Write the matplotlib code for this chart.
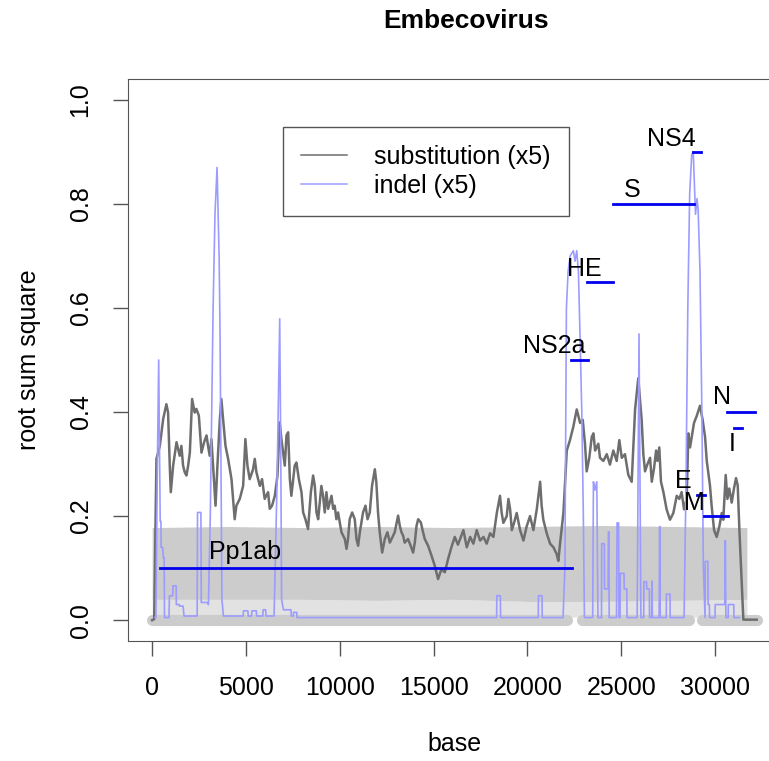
import matplotlib
matplotlib.use('Agg')
import matplotlib.pyplot as plt

plt.rcParams['font.family'] = ['Liberation Sans', 'DejaVu Sans']

# substitution (x5)
sub_x = [0, 110, 230, 410, 590, 760, 850, 940, 995, 1120, 1300, 1470, 1560, 1650, 1740,
         1830, 1920, 2010, 2130, 2270, 2360, 2490, 2630, 2770, 2900, 2980, 3070, 3160,
         3250, 3380, 3480, 3610, 3690, 3780, 3910, 4050, 4230, 4400, 4490, 4670, 4850,
         4970, 5080, 5200, 5380, 5470, 5560, 5740, 5860, 6000, 6180, 6270, 6390, 6540,
         6680, 6800, 6890, 6980, 7070, 7160, 7250, 7340, 7420, 7600, 7690, 7820, 7960,
         8050, 8170, 8310, 8460, 8580, 8670, 8760, 8850, 9020, 9110, 9200, 9290, 9380,
         9560, 9650, 9730, 9820, 9910, 10090, 10270, 10360, 10440, 10530, 10660, 10800,
         10890, 10980, 11070, 11240, 11370, 11480, 11600, 11720, 11870, 11950, 12040,
         12130, 12260, 12400, 12540, 12670, 12840, 12930, 13110, 13200, 13290, 13380,
         13460, 13640, 13780, 13910, 14000, 14090, 14180, 14320, 14440, 14530, 14710,
         14890, 15060, 15240, 15420, 15600, 15770, 15950, 16130, 16300, 16590, 16770,
         16950, 17120, 17300, 17480, 17660, 17830, 18010, 18190, 18370, 18540, 18630,
         18720, 18900, 18990, 19080, 19170, 19290, 19430, 19610, 19790, 19960, 20140,
         20320, 20500, 20680, 20760, 20850, 21030, 21210, 21390, 21560, 21650, 21740,
         21920, 22100, 22270, 22450, 22630, 22810, 22950, 23070, 23160, 23300, 23430,
         23520, 23610, 23780, 23870, 24050, 24230, 24400, 24580, 24760, 24900, 25030,
         25200, 25380, 25560, 25740, 25910, 26000, 26090, 26180, 26270, 26390, 26540,
         26630, 26750, 26860, 26930, 27030, 27120, 27250, 27420, 27600, 27780, 27960,
         28100, 28220, 28350, 28490, 28580, 28670, 28760, 28880, 29020, 29200, 29340,
         29470, 29560, 29730, 29820, 29950, 30090, 30230, 30360, 30440, 30570, 30660,
         30760, 30890, 31010, 31120, 31210, 31300, 31420, 31510, 32220]
sub_y = [0.0, 0.002, 0.31, 0.335, 0.387, 0.415, 0.399, 0.297, 0.246, 0.297, 0.342, 0.316,
         0.335, 0.297, 0.284, 0.278, 0.297, 0.322, 0.425, 0.399, 0.406, 0.393, 0.322,
         0.342, 0.355, 0.335, 0.316, 0.348, 0.297, 0.22, 0.297, 0.387, 0.425, 0.387,
         0.335, 0.31, 0.271, 0.194, 0.22, 0.233, 0.258, 0.348, 0.297, 0.271, 0.29, 0.31,
         0.284, 0.258, 0.271, 0.233, 0.246, 0.214, 0.22, 0.239, 0.278, 0.38, 0.348,
         0.322, 0.297, 0.355, 0.361, 0.271, 0.239, 0.297, 0.303, 0.271, 0.246, 0.207,
         0.194, 0.175, 0.246, 0.278, 0.258, 0.207, 0.194, 0.258, 0.239, 0.207, 0.246,
         0.214, 0.239, 0.214, 0.22, 0.194, 0.207, 0.169, 0.156, 0.137, 0.156, 0.194,
         0.207, 0.194, 0.156, 0.143, 0.169, 0.207, 0.22, 0.194, 0.207, 0.258, 0.29,
         0.265, 0.207, 0.169, 0.13, 0.156, 0.169, 0.149, 0.162, 0.169, 0.201, 0.181,
         0.169, 0.162, 0.149, 0.156, 0.143, 0.13, 0.149, 0.181, 0.194, 0.188, 0.169,
         0.156, 0.143, 0.124, 0.105, 0.079, 0.098, 0.092, 0.117, 0.14, 0.16, 0.145,
         0.173, 0.14, 0.16, 0.147, 0.173, 0.153, 0.16, 0.147, 0.167, 0.16, 0.206, 0.239,
         0.206, 0.187, 0.2, 0.233, 0.213, 0.173, 0.187, 0.206, 0.173, 0.153, 0.18, 0.2,
         0.173, 0.213, 0.266, 0.22, 0.193, 0.167, 0.147, 0.14, 0.127, 0.114, 0.147,
         0.206, 0.326, 0.346, 0.372, 0.405, 0.379, 0.385, 0.339, 0.286, 0.312, 0.352,
         0.359, 0.326, 0.339, 0.312, 0.306, 0.319, 0.299, 0.326, 0.306, 0.346, 0.312,
         0.319, 0.279, 0.266, 0.405, 0.465, 0.425, 0.385, 0.319, 0.286, 0.299, 0.312,
         0.266, 0.292, 0.326, 0.306, 0.332, 0.266, 0.246, 0.213, 0.193, 0.206, 0.239,
         0.233, 0.246, 0.213, 0.233, 0.359, 0.332, 0.352, 0.379, 0.392, 0.412, 0.385,
         0.352, 0.306, 0.259, 0.22, 0.173, 0.16, 0.18, 0.206, 0.193, 0.279, 0.233,
         0.253, 0.226, 0.253, 0.273, 0.259, 0.173, 0.074, 0.001, 0.001]

# indel (x5)
indel_x = [150, 200, 280, 350, 400, 430, 470, 480, 560, 600, 640, 660, 900, 920, 1100,
           1110, 1280, 1290, 1450, 1460, 1650, 1700, 2400, 2420, 2600, 2620, 2950, 3000,
           3100, 3250, 3350, 3460, 3520, 3570, 3620, 3680, 3720, 3800, 4850, 4870, 5100,
           5120, 5300, 5320, 5550, 5570, 5900, 5920, 6050, 6070, 6500, 6650, 6800, 6860,
           6900, 7000, 7400, 7420, 7530, 7540, 7710, 7720, 18360, 18370, 18560, 18570,
           20580, 20590, 20780, 20790, 21900, 22000, 22080, 22170, 22280, 22450, 22540,
           22630, 22720, 22810, 22900, 22980, 23040, 23480, 23520, 23600, 23700, 23760,
           23950, 23960, 24100, 24110, 24300, 24320, 24340, 24360, 24750, 24780, 24860,
           24880, 24940, 24950, 25150, 25160, 25300, 25310, 25850, 25950, 26050, 26200,
           26210, 26350, 26360, 26500, 26510, 26620, 26640, 26660, 27020, 27050, 27080,
           27400, 27410, 27600, 27610, 28350, 28450, 28550, 28650, 28760, 28840, 28900,
           28960, 29040, 29100, 29200, 29300, 29380, 29470, 29480, 29620, 29630, 29700,
           29710, 30000, 30010, 30520, 30550, 30580, 30700, 30710, 31000, 31010, 31300]
indel_y = [0.005, 0.005, 0.30, 0.50, 0.30, 0.19, 0.19, 0.14, 0.14, 0.12, 0.12, 0.005,
           0.005, 0.047, 0.047, 0.066, 0.066, 0.03, 0.03, 0.027, 0.027, 0.008, 0.008,
           0.207, 0.207, 0.034, 0.034, 0.03, 0.20, 0.60, 0.78, 0.87, 0.78, 0.70, 0.55,
           0.25, 0.04, 0.008, 0.008, 0.018, 0.018, 0.008, 0.008, 0.018, 0.018, 0.008,
           0.008, 0.02, 0.02, 0.008, 0.008, 0.25, 0.579, 0.30, 0.04, 0.02, 0.02, 0.008,
           0.008, 0.015, 0.015, 0.005, 0.005, 0.047, 0.047, 0.005, 0.005, 0.047, 0.047,
           0.005, 0.005, 0.10, 0.60, 0.67, 0.70, 0.71, 0.69, 0.71, 0.67, 0.54, 0.40,
           0.206, 0.005, 0.005, 0.266, 0.25, 0.266, 0.005, 0.005, 0.147, 0.147, 0.06,
           0.06, 0.17, 0.17, 0.005, 0.005, 0.187, 0.187, 0.005, 0.005, 0.09, 0.09, 0.06,
           0.06, 0.005, 0.005, 0.55, 0.005, 0.005, 0.074, 0.074, 0.06, 0.06, 0.005,
           0.005, 0.075, 0.005, 0.005, 0.18, 0.005, 0.005, 0.05, 0.05, 0.005, 0.005,
           0.25, 0.60, 0.82, 0.895, 0.90, 0.84, 0.78, 0.81, 0.79, 0.67, 0.40, 0.10,
           0.005, 0.113, 0.113, 0.03, 0.03, 0.005, 0.005, 0.03, 0.03, 0.153, 0.005,
           0.005, 0.03, 0.03, 0.005, 0.005]

# grey points: dense band, open-circle fringe and the zero row
band_x = [0, 4000, 8000, 12000, 16000, 20000, 24000, 28000, 31700]
band_hi = [0.178, 0.18, 0.178, 0.18, 0.178, 0.18, 0.182, 0.18, 0.178]
band_lo = [0.04, 0.04, 0.04, 0.038, 0.04, 0.036, 0.036, 0.038, 0.04]
fringe_lo = [0.006] * len(band_x)
row_start = [0, 22900, 29300]
row_end = [22100, 28600, 32220]

# genes
gene_names = ['Pp1ab', 'NS2a', 'HE', 'S', 'NS4', 'E', 'M', 'N', 'I']
gene_start = [430, 22310, 23160, 24550, 28840, 29020, 29410, 30640, 31010]
gene_end = [22370, 23220, 24550, 28880, 29270, 29470, 30710, 32130, 31460]
gene_y = [0.10, 0.50, 0.65, 0.80, 0.90, 0.24, 0.20, 0.40, 0.37]
label_x = [4940, 21440, 23020, 25610, 27660, 28310, 28880, 30350, 30940]
label_y = [0.131, 0.527, 0.675, 0.827, 0.925, 0.268, 0.226, 0.428, 0.338]

fig = plt.figure(figsize=(7.69, 7.61), dpi=100)
ax = fig.add_axes([0.1664, 0.1577, 0.8485, 0.7385])

ax.fill_between(band_x, fringe_lo, band_lo, color='#E2E2E2', lw=0, zorder=1)
ax.fill_between(band_x, band_lo, band_hi, color='#CCCCCC', lw=0, zorder=1)
for s, e in zip(row_start, row_end):
    ax.plot([s, e], [0, 0], color='#CCCCCC', lw=8, solid_capstyle='round', zorder=1)

ax.plot(sub_x, sub_y, color='#6E6E6E', lw=1.8, label='substitution (x5)', zorder=3)
ax.plot(indel_x, indel_y, color='#9C9CFF', lw=1.2, label='indel (x5)', zorder=4)

for s, e, y in zip(gene_start, gene_end, gene_y):
    ax.plot([s, e], [y, y], color='#0000EE', lw=2, zorder=5)
for name, x, y in zip(gene_names, label_x, label_y):
    ax.text(x, y, name, fontsize=18, ha='center', va='center', zorder=6)

ax.set_xlim(-1288, 33488)
ax.set_ylim(-0.04, 1.04)
ax.set_xticks([0, 5000, 10000, 15000, 20000, 25000, 30000])
ax.set_yticks([0.0, 0.2, 0.4, 0.6, 0.8, 1.0])
ax.set_yticklabels(['0.0', '0.2', '0.4', '0.6', '0.8', '1.0'], rotation=90, va='center')
ax.tick_params(length=10.5, width=1, pad=15, labelsize=18, color='#555555')
for sp in ax.spines.values():
    sp.set_color('#555555')

ax.set_xlabel('base', fontsize=18, labelpad=23)
ax.set_ylabel('root sum square', fontsize=18, labelpad=20)
fig.text(0.606, 0.973, 'Embecovirus', fontsize=19, fontweight='bold', ha='center', va='center')

leg = ax.legend(loc='upper left', bbox_to_anchor=(0.2375, 0.9146), borderaxespad=0,
                fontsize=18, handlelength=1.84, handletextpad=1.1, labelspacing=0.2,
                borderpad=0.72, fancybox=False, framealpha=1, edgecolor='#555555')
leg.get_frame().set_linewidth(1)
for line in leg.get_lines():
    line.set_linewidth(1.1)

fig.savefig('out.png', dpi=100)
